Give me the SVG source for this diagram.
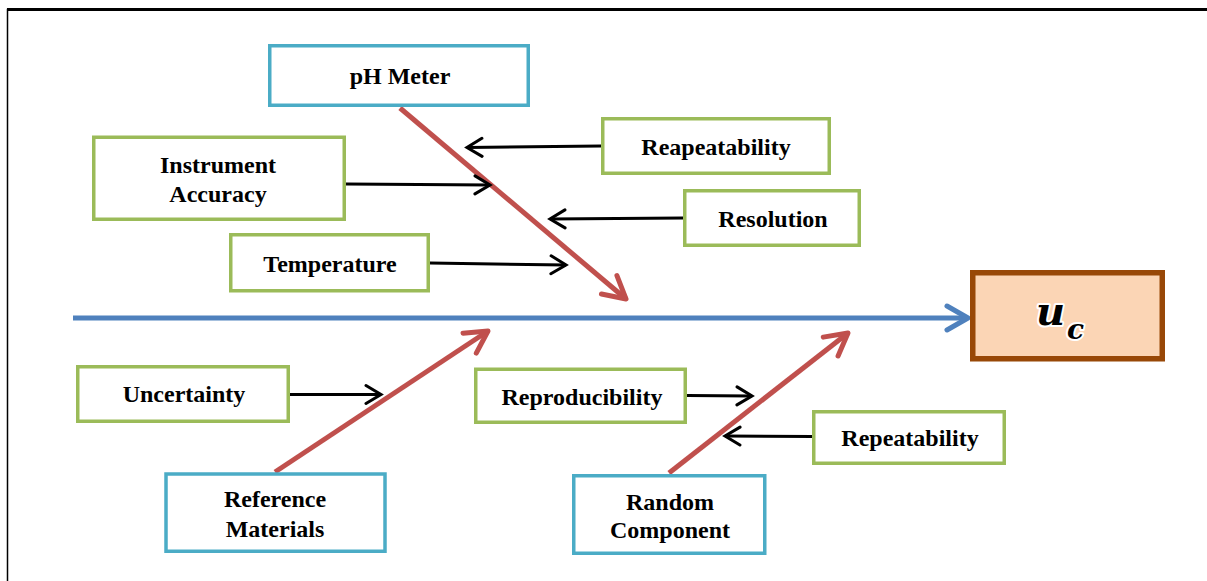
<svg xmlns="http://www.w3.org/2000/svg" width="1207" height="581" viewBox="0 0 1207 581">
<defs>
<style>
.g{fill:#fff;stroke:#9BBB59;stroke-width:3.5}
.b{fill:#fff;stroke:#4BACC6;stroke-width:3.5}
.t{font-family:"Liberation Serif","Times New Roman",serif;font-weight:bold;font-size:24px;fill:#000;text-anchor:middle}
.bk{stroke:#000;stroke-width:3;fill:none}
.rd{stroke:#C0504D;stroke-width:5;fill:none}
.bl{stroke:#4F81BD;stroke-width:5;fill:none}
</style>
<marker id="mk" markerUnits="userSpaceOnUse" markerWidth="20" markerHeight="24" viewBox="-17 -12 20 24" refX="0" refY="0" orient="auto">
<path d="M-15,-9 L0,0 L-15,9" stroke="#000" stroke-width="3" fill="none" stroke-linecap="round"/>
</marker>
<marker id="mr" markerUnits="userSpaceOnUse" markerWidth="30" markerHeight="32" viewBox="-25 -16 30 32" refX="0" refY="0" orient="auto">
<path d="M-22,-12 L0,0 L-22,12" stroke="#C0504D" stroke-width="5" fill="none" stroke-linecap="round" stroke-linejoin="round"/>
</marker>
<marker id="mb" markerUnits="userSpaceOnUse" markerWidth="30" markerHeight="32" viewBox="-25 -16 30 32" refX="0" refY="0" orient="auto">
<path d="M-21,-12 L0,0 L-21,12" stroke="#4F81BD" stroke-width="5" fill="none" stroke-linecap="round" stroke-linejoin="round"/>
</marker>
</defs>
<rect width="1207" height="581" fill="#fff"/>
<g id="frame">
<path d="M7.5,581 V9.5 H1207" stroke="#000" stroke-width="1.5" fill="none"/>
<path d="M7,9.5 H1207" stroke="#000" stroke-width="3" fill="none"/>
</g>
<g id="connectors">
<path class="bl" d="M73,318 L968,318" marker-end="url(#mb)"/>
<path class="rd" d="M400,108 L626,299" marker-end="url(#mr)"/>
<path class="rd" d="M275,472 L488,331" marker-end="url(#mr)"/>
<path class="rd" d="M669,473 L848,333" marker-end="url(#mr)"/>
<path class="bk" d="M601,146 L467,147.5" marker-end="url(#mk)"/>
<path class="bk" d="M346,184 L490,185" marker-end="url(#mk)"/>
<path class="bk" d="M683,218 L550,219" marker-end="url(#mk)"/>
<path class="bk" d="M430,263 L566,265" marker-end="url(#mk)"/>
<path class="bk" d="M290,394.5 L381,394.5" marker-end="url(#mk)"/>
<path class="bk" d="M687,395.5 L752,396" marker-end="url(#mk)"/>
<path class="bk" d="M812,436.5 L725,436" marker-end="url(#mk)"/>
</g>
<g id="ph-meter"><rect class="b" x="269.75" y="45.75" width="258.5" height="59.5"/><text class="t" x="400" y="84">pH Meter</text></g>
<g id="reapeatability"><rect class="g" x="602.75" y="118.75" width="226.5" height="54.5"/><text class="t" x="716" y="155">Reapeatability</text></g>
<g id="resolution"><rect class="g" x="684.75" y="190.75" width="174.5" height="54.5"/><text class="t" x="773" y="227">Resolution</text></g>
<g id="instrument-accuracy"><rect class="g" x="93.75" y="137.25" width="250.5" height="82"/><text class="t" x="218" y="173">Instrument</text><text class="t" x="218" y="202">Accuracy</text></g>
<g id="temperature"><rect class="g" x="230.75" y="234.75" width="197.5" height="56"/><text class="t" x="330" y="272">Temperature</text></g>
<g id="uc"><rect x="972.75" y="272.75" width="189.5" height="86" fill="#FBD5B5" stroke="#984807" stroke-width="5.5"/>
<text x="1036" y="325" font-family="'DejaVu Serif','Liberation Serif',serif" font-style="italic" font-weight="bold" font-size="40" fill="#000" stroke="#fff" stroke-width="4" paint-order="stroke" stroke-linejoin="round">u</text>
<text x="1067" y="339" font-family="'DejaVu Serif','Liberation Serif',serif" font-style="italic" font-weight="bold" font-size="28" fill="#000" stroke="#fff" stroke-width="4" paint-order="stroke" stroke-linejoin="round">c</text></g>
<g id="uncertainty"><rect class="g" x="77.75" y="366.75" width="210.5" height="54.5"/><text class="t" x="184" y="402">Uncertainty</text></g>
<g id="reproducibility"><rect class="g" x="475.75" y="369.25" width="209.5" height="53"/><text class="t" x="582" y="405">Reproducibility</text></g>
<g id="repeatability"><rect class="g" x="813.75" y="411.75" width="190.5" height="51.5"/><text class="t" x="910" y="446">Repeatability</text></g>
<g id="reference-materials"><rect class="b" x="166" y="474" width="219" height="77.25"/><text class="t" x="275" y="507">Reference</text><text class="t" x="275" y="537">Materials</text></g>
<g id="random-component"><rect class="b" x="573.75" y="475.75" width="191" height="77.5"/><text class="t" x="670" y="510">Random</text><text class="t" x="670" y="538">Component</text></g>
</svg>
